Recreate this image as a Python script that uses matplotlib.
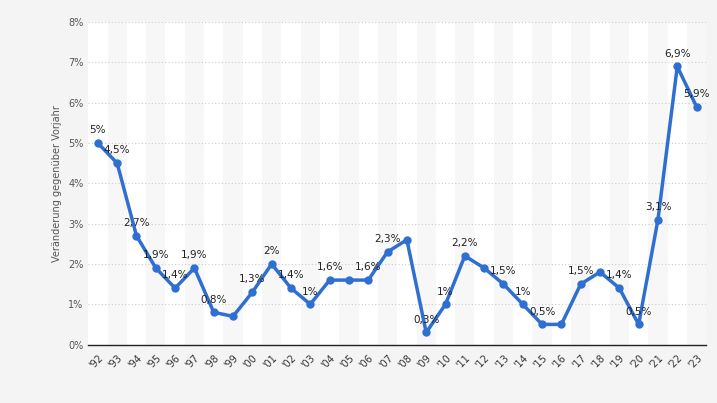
import matplotlib
matplotlib.use("Agg")
import matplotlib.pyplot as plt
from matplotlib.ticker import FuncFormatter

years = ["'92","'93","'94","'95","'96","'97","'98","'99","'00","'01","'02","'03","'04","'05","'06","'07",
         "'08","'09","'10","'11","'12","'13","'14","'15","'16","'17","'18","'19","'20","'21","'22","'23"]
values = [5,4.5,2.7,1.9,1.4,1.9,0.8,0.7,1.3,2,1.4,1,1.6,1.6,1.6,2.3,
          2.6,0.3,1,2.2,1.9,1.5,1,0.5,0.5,1.5,1.8,1.4,0.5,3.1,6.9,5.9]
shown = [1,1,1,1,1,1,1,0,1,1,1,1,1,0,1,1,0,1,1,1,0,1,1,1,0,1,0,1,1,1,1,1]

fig = plt.figure(figsize=(7.17,4.03), dpi=100, facecolor="#f4f4f4")
ax = fig.add_axes([0.123,0.145,0.862,0.80])
ax.set_facecolor("#f7f7f7")
x = list(range(len(years)))
for i in x:
    if i % 2 == 0:
        ax.axvspan(i-0.5, i+0.5, color="white", zorder=0, lw=0)
ax.plot(x, values, color="#2f6fd1", lw=2.5, marker="o", ms=5, zorder=3)
for i,(v,s) in enumerate(zip(values,shown)):
    if s:
        t = (f"{v:g}".replace(".", ",")) + "%"
        ax.annotate(t, (i, v), xytext=(0, 7), textcoords="offset points", ha="center",
                    fontsize=7.5, color="#222222", zorder=4)
ax.set_xlim(-0.5, len(years)-0.5)
ax.set_ylim(0, 8)
ax.set_xticks(x)
ax.set_xticklabels(years, rotation=45, fontsize=7, color="#333333", ha="right", rotation_mode="anchor")
ax.set_yticks(range(9))
ax.yaxis.set_major_formatter(FuncFormatter(lambda v, p: f"{int(v)}%"))
ax.tick_params(axis="y", labelsize=7, colors="#555555", length=0)
ax.tick_params(axis="x", length=0, pad=6)
ax.grid(axis="y", color="#cccccc", ls=(0,(1,2)), lw=0.8)
ax.set_axisbelow(True)
for k, s in ax.spines.items():
    s.set_visible(k == "bottom")
ax.spines["bottom"].set_color("#222222")
ax.spines["bottom"].set_linewidth(1)
ax.set_ylabel("Veränderung gegenüber Vorjahr", fontsize=7, color="#555555")
fig.savefig("out.png", dpi=100, facecolor=fig.get_facecolor())
